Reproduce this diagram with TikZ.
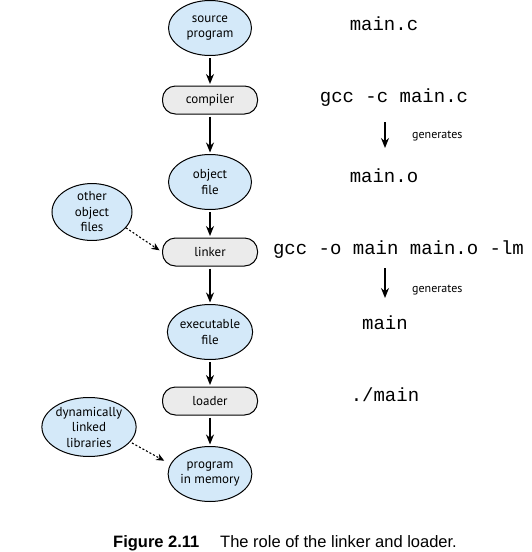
\documentclass[tikz,border=0pt]{standalone}
\usepackage{fontspec}
\setmainfont{PT Sans}
\setmonofont{Liberation Mono}
\newfontfamily\capfont{Liberation Sans}
\usetikzlibrary{arrows.meta,shapes.geometric}
\definecolor{ovalfill}{RGB}{212,233,249}
\definecolor{boxfill}{RGB}{235,235,235}
\begin{document}
\begin{tikzpicture}[x=1pt,y=-1pt,
  lbl/.style={font=\fontsize{13}{15.5}\selectfont, align=center},
  oval/.style={lbl, ellipse, draw, line width=1pt, fill=ovalfill,
    minimum width=83pt, minimum height=55pt, inner sep=0pt},
  stage/.style={lbl, rectangle, rounded corners=13pt, draw, line width=1pt,
    fill=boxfill, minimum width=95pt, minimum height=28pt, inner sep=0pt},
  flow/.style={-{Stealth[length=10pt,width=8pt]}, line width=1.6pt,
    shorten <=2pt, shorten >=1.5pt},
  extra/.style={-{Stealth[length=8pt,width=7pt]}, line width=1.1pt,
    dash pattern=on 2pt off 2pt},
  cmd/.style={font=\ttfamily\fontsize{19}{19}\selectfont, anchor=base, inner sep=0pt},
  note/.style={font=\fontsize{12}{14}\selectfont, anchor=west, inner sep=0pt}]

\useasboundingbox (0,0) rectangle (532,552);

% build pipeline
\node[oval] (src) at (210,28) {source\\program};
\node[stage] (cc) at (210,100) {compiler};
\node[oval] (obj) at (210,182) {object\\file};
\node[oval, minimum width=80pt] (oof) at (92,212) {other\\object\\files};
\node[stage] (lk) at (210,252) {linker};
\node[oval] (exe) at (210,332) {executable\\file};
\node[stage] (ldr) at (210,401) {loader};
\node[oval, minimum width=76pt, minimum height=59pt] (dll) at (89,427) {dynamically\\linked\\libraries};
\node[oval] (mem) at (210,474) {program\\in memory};

\draw[flow] (src.south) -- (cc.north);
\draw[flow] (cc.south) -- (obj.north);
\draw[flow] (obj.south) -- (lk.north);
\draw[flow] (lk.south) -- (exe.north);
\draw[flow] (exe.south) -- (ldr.north);
\draw[flow] (ldr.south) -- (mem.north);

\draw[extra, shorten >=3pt] (oof.-25) -- (lk.west);
\draw[extra, shorten <=2pt, shorten >=7pt] (dll.-20) -- (mem.166);

% matching shell commands
\node[cmd] (t1) at (384,30) {main.c};
\node[cmd] (t2) at (394,102) {gcc -c main.c};
\node[cmd] (t3) at (384,182) {main.o};
\node[cmd] (t4) at (398.5,254) {gcc -o main main.o -lm};
\node[cmd] (t5) at (385,329) {main};
\node[cmd] (t6) at (385,401) {./main};

\coordinate (g1a) at (385,122);
\coordinate (g1b) at (385,148);
\coordinate (g2a) at (385,268);
\coordinate (g2b) at (385,298);
\draw[flow, shorten <=0pt, shorten >=0pt] (g1a) -- (g1b);
\draw[flow, shorten <=0pt, shorten >=0pt] (g2a) -- (g2b);
\node[note] (gen1) at (412,136) {generates};
\node[note] (gen2) at (412,290) {generates};

% caption
\node[font=\capfont\bfseries\fontsize{16.5}{18}\selectfont, anchor=base west, inner sep=0pt]
  (fig) at (113,547) {Figure 2.11};
\node[font=\capfont\fontsize{16.5}{18}\selectfont, anchor=base west, inner sep=0pt]
  (cap) at (220,547) {The role of the linker and loader.};
\end{tikzpicture}
\end{document}
